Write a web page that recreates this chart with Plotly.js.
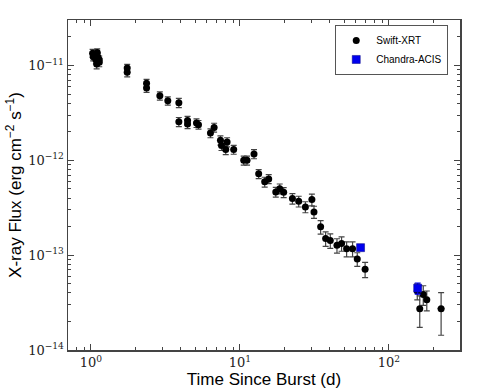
<!DOCTYPE html>
<html>
<head>
<meta charset="utf-8">
<script src="https://cdn.plot.ly/plotly-3.0.1.min.js"></script>
<style>
  html, body { margin: 0; padding: 0; background: #fff; }
  #chart { width: 485px; height: 390px; }
</style>
</head>
<body>
<div id="chart"></div>
<script>
// Swift-XRT light curve (days since burst, flux in erg cm^-2 s^-1)
var swiftT = [1.026, 1.102, 1.036, 1.080, 1.137, 1.137, 1.092, 1.114,
  1.751, 1.751, 2.362, 2.362, 2.90, 3.28, 3.89, 3.89, 4.45, 4.45, 5.11, 5.27,
  6.34, 6.71, 7.40, 7.52, 8.20, 8.03, 9.08, 10.6, 11.16, 12.43, 13.36, 14.66,
  15.6, 17.4, 18.5, 19.66, 22.5, 24.8, 27.5, 30.4, 31.4, 34.8, 37.6, 40.4,
  44.8, 48.1, 52.0, 57.0, 61.3, 69.2, 155, 161, 170, 179.5, 224];
var swiftF = [1.35e-11, 1.37e-11, 1.24e-11, 1.15e-11, 1.15e-11, 1.08e-11, 1.04e-11, 1.23e-11,
  9.4e-12, 8.5e-12, 6.5e-12, 5.8e-12, 4.8e-12, 4.25e-12, 4.05e-12, 2.55e-12, 2.63e-12, 2.42e-12, 2.48e-12, 2.38e-12,
  1.94e-12, 2.22e-12, 1.63e-12, 1.43e-12, 1.56e-12, 1.30e-12, 1.30e-12, 1.0e-12, 1.0e-12, 1.17e-12, 7.2e-13, 5.93e-13,
  6.37e-13, 4.65e-13, 5.03e-13, 4.6e-13, 3.95e-13, 3.7e-13, 3.23e-13, 3.86e-13, 2.86e-13, 1.99e-13, 1.50e-13, 1.43e-13,
  1.27e-13, 1.33e-13, 1.17e-13, 1.17e-13, 9.1e-14, 7.1e-14, 4.18e-14, 2.73e-14, 3.86e-14, 3.39e-14, 2.73e-14];
var swiftErr = [1.3e-12, 1.3e-12, 1.2e-12, 1.1e-12, 1.1e-12, 1.1e-12, 1.2e-12, 1.2e-12,
  9e-13, 9e-13, 6.5e-13, 6e-13, 4.8e-13, 4.3e-13, 4.5e-13, 2.8e-13, 2.8e-13, 2.6e-13, 2.6e-13, 2.5e-13,
  2.1e-13, 2.4e-13, 1.8e-13, 1.6e-13, 1.7e-13, 1.5e-13, 1.4e-13, 1.1e-13, 1.1e-13, 1.3e-13, 8e-14, 7e-14,
  7e-14, 5.5e-14, 6e-14, 5.5e-14, 5e-14, 4.8e-14, 4.3e-14, 5.5e-14, 4.2e-14, 3.2e-14, 2.6e-14, 2.5e-14,
  2.2e-14, 2.3e-14, 2.1e-14, 2.1e-14, 1.5e-14, 1.3e-14, 8e-15, 1.0e-14, 9e-15, 8e-15, 1.3e-14];
var swiftTErr = [0.01, 0.01, 0.01, 0.01, 0.01, 0.01, 0.01, 0.01,
  0.02, 0.02, 0.03, 0.03, 0.03, 0.04, 0.04, 0.04, 0.05, 0.05, 0.05, 0.05,
  0.06, 0.07, 0.07, 0.07, 0.08, 0.08, 0.09, 0.1, 0.1, 0.12, 0.13, 0.15,
  0.15, 0.17, 0.18, 0.2, 0.22, 0.25, 0.27, 0.3, 0.3, 0.35, 0.4, 0.4,
  0.45, 0.5, 0.5, 0.6, 0.6, 0.7, 3, 3, 3, 3, 12];

// Chandra-ACIS points
var chandraT = [64.5, 156];
var chandraF = [1.20e-13, 4.49e-14];
var chandraErr = [4e-15, 6e-15];

// tick labels
var xTickVals = [1, 10, 100];
var xTickText = ['10<sup>0</sup>', '10<sup>1</sup>', '10<sup>2</sup>'];
var yTickVals = [1e-14, 1e-13, 1e-12, 1e-11];
var yTickText = ['10<sup>\u221214</sup>', '10<sup>\u221213</sup>', '10<sup>\u221212</sup>', '10<sup>\u221211</sup>'];

// minor ticks at 2..9 of each decade
function minorTicks(lo, hi) {
  var v = [];
  for (var e = lo; e <= hi; e++) {
    for (var m = 2; m <= 9; m++) v.push(m * Math.pow(10, e));
  }
  return v;
}

var axisFont = {family: '"DejaVu Serif", "Liberation Serif", serif', size: 13, color: '#222'};
var titleFont = {family: '"Liberation Sans", Arial, sans-serif', size: 17, color: '#000'};

var trace1 = {
  x: swiftT,
  y: swiftF,
  name: 'Swift-XRT',
  type: 'scatter',
  mode: 'markers',
  marker: {color: '#000', size: 7, symbol: 'circle'},
  error_y: {type: 'data', array: swiftErr, visible: true, color: '#444', thickness: 1.2, width: 3},
  error_x: {type: 'data', array: swiftTErr, visible: true, color: '#444', thickness: 1.2, width: 0}
};

var trace2 = {
  x: chandraT,
  y: chandraF,
  name: 'Chandra-ACIS',
  type: 'scatter',
  mode: 'markers',
  marker: {color: '#0000ee', size: 8, symbol: 'square', line: {color: '#000080', width: 0.5}},
  error_y: {type: 'data', array: chandraErr, visible: true, color: '#0000ee', thickness: 1.2, width: 3}
};

var data = [trace1, trace2];

var layout = {
  width: 485,
  height: 390,
  margin: {l: 68, r: 25, t: 20, b: 40},
  paper_bgcolor: '#fff',
  plot_bgcolor: '#fff',
  showlegend: true,
  legend: {
    x: 0.97, y: 0.985, xanchor: 'right', yanchor: 'top',
    bgcolor: '#fff', bordercolor: '#555', borderwidth: 1,
    font: {family: '"Liberation Sans", Arial, sans-serif', size: 10, color: '#000'},
    tracegroupgap: 0, itemwidth: 30
  },
  xaxis: {
    type: 'log',
    range: [-0.154, 2.477],
    tickmode: 'array', tickvals: xTickVals, ticktext: xTickText,
    showgrid: false,
    zeroline: false,
    showline: true, linecolor: '#444', linewidth: 1.5, mirror: 'allticks',
    ticks: 'inside', ticklen: 6, tickcolor: '#444',
    minor: {tickmode: 'array', tickvals: minorTicks(-1, 2), ticks: 'inside', ticklen: 3, tickcolor: '#444', showgrid: false},
    tickfont: axisFont,
    title: {text: 'Time Since Burst (d)', font: titleFont, standoff: 0}
  },
  yaxis: {
    type: 'log',
    range: [-14, -10.52],
    tickmode: 'array', tickvals: yTickVals, ticktext: yTickText,
    showgrid: false,
    zeroline: false,
    showline: true, linecolor: '#444', linewidth: 1.5, mirror: 'allticks',
    ticks: 'inside', ticklen: 6, tickcolor: '#444',
    minor: {tickmode: 'array', tickvals: minorTicks(-14, -11), ticks: 'inside', ticklen: 3, tickcolor: '#444', showgrid: false},
    tickfont: axisFont,
    title: {text: 'X-ray Flux (erg cm<sup>\u22122</sup> s<sup>\u22121</sup>)', font: titleFont, standoff: 2}
  }
};

Plotly.newPlot('chart', data, layout, {displayModeBar: false, staticPlot: true});
</script>
</body>
</html>
